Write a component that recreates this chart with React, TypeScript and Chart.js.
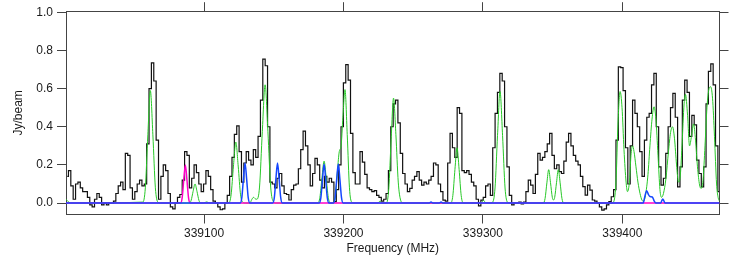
import { useEffect, useRef } from 'react';
import { Chart, registerables } from 'chart.js';

Chart.register(...registerables);

// ---- data ----
const CHANNEL_START_MHZ = 339001.9;
const CHANNEL_WIDTH_MHZ = 1.7;

const SPECTRUM = [
  0.14, 0.17, 0.09, 0.02, 0.10, 0.11, 0.08, 0.06, 0.06, 0.03,
  -0.01, -0.02, 0.02, 0.05, 0.03, -0.01, 0.0, -0.01, 0.0, 0.0,
  0.01, 0.05, 0.09, 0.11, 0.07, 0.26, 0.25, 0.08, 0.02, 0.06,
  0.10, 0.12, 0.09, 0.10, 0.31, 0.60, 0.735, 0.64, 0.33, 0.02,
  0.14, 0.20, 0.17, 0.05, -0.02, -0.03, 0.0, 0.03, 0.045, 0.12,
  0.27, 0.25, 0.08, 0.13, 0.20, 0.16, 0.10, 0.06, 0.10, 0.17,
  0.14, 0.07, 0.01, 0.0, -0.02, -0.035, -0.03, 0.0, 0.04, 0.14,
  0.24, 0.36, 0.405, 0.27, 0.11, 0.21, 0.27, 0.225, 0.20, 0.28,
  0.24, 0.35, 0.54, 0.755, 0.72, 0.40, 0.11, 0.10, 0.08, 0.13,
  0.155, 0.09, 0.05, 0.045, 0.016, 0.07, 0.094, 0.10, 0.18, 0.28,
  0.377, 0.30, 0.20, 0.09, 0.155, 0.234, 0.20, 0.12, 0.08, 0.14,
  0.11, 0.13, 0.11, 0.007, 0.07, 0.20, 0.40, 0.63, 0.726, 0.645,
  0.365, 0.16, 0.10, 0.10, 0.27, 0.215, 0.15, 0.08, 0.07, 0.06,
  0.065, 0.04, 0.03, 0.01, 0.02, 0.05, 0.17, 0.40, 0.52, 0.54,
  0.42, 0.26, 0.155, 0.10, 0.06, 0.077, 0.12, 0.14, 0.165, 0.12,
  0.094, 0.11, 0.10, 0.12, 0.14, 0.21, 0.20, 0.10, 0.06, 0.015,
  0.01, 0.21, 0.365, 0.29, 0.24, 0.50, 0.47, 0.17, 0.16, 0.17,
  0.15, 0.11, 0.09, 0.02, -0.015, 0.015, 0.03, 0.09, 0.10, 0.04,
  0.29, 0.47, 0.58, 0.68, 0.64, 0.40, 0.19, 0.04, -0.01, 0.0,
  0.0, 0.005, -0.005, 0.005, 0.06, 0.12, 0.094, 0.05, 0.15, 0.26,
  0.225, 0.24, 0.27, 0.31, 0.365, 0.25, 0.18, 0.20, 0.165, 0.155,
  0.22, 0.32, 0.365, 0.30, 0.25, 0.22, 0.20, 0.14, 0.086, 0.042,
  0.094, 0.068, 0.016, 0.01, 0.0, -0.02, -0.037, -0.03, -0.01, 0.007,
  0.033, 0.07, 0.33, 0.714, 0.71, 0.59, 0.29, 0.10, 0.30, 0.54,
  0.47, 0.40, 0.27, 0.14, 0.33, 0.45, 0.47, 0.62, 0.68, 0.40,
  0.19, 0.094, 0.13, 0.26, 0.40, 0.50, 0.575, 0.45, 0.085, 0.19,
  0.54, 0.645, 0.58, 0.35, 0.46, 0.41, 0.225, 0.155, 0.085, 0.19,
  0.52, 0.69, 0.73, 0.62, 0.30, 0.06,
];

const GREEN_FREQ = [
  339001.0, 339002.5, 339004.3,
  339056.1, 339057.9, 339059.7, 339061.5, 339063.3, 339065.1, 339066.9, 339068.7,
  339089.35, 339090.75, 339092.15, 339093.55, 339094.95, 339096.35, 339097.75,
  339099.5, 339101.9, 339104.3,
  339117.7, 339119.4, 339121.1, 339122.8, 339124.5, 339126.2, 339127.9, 339129.6,
  339132.9, 339134.2, 339135.5, 339136.8, 339137.8, 339139.8, 339141.8, 339143.8, 339145.8, 339147.8, 339149.8, 339151.8,
  339181.6, 339183.1, 339184.6, 339186.1, 339187.6, 339189.1, 339190.6,
  339192.6, 339194.2, 339195.7, 339197.0, 339198.3, 339199.6, 339201.1, 339202.7, 339204.3, 339205.9, 339207.5,
  339224.6, 339226.2, 339227.8,
  339230.8, 339232.5, 339234.2, 339235.9, 339237.6, 339239.3, 339241.0, 339242.7,
  339276.95, 339278.45, 339279.95, 339281.45, 339282.95, 339284.45, 339285.95,
  339298.8, 339300.45, 339302.1,
  339305.1, 339306.9, 339308.7, 339310.5, 339312.3, 339314.1, 339315.9, 339317.7, 339319.5,
  339343.3, 339344.6, 339345.9, 339347.2, 339348.5, 339349.8, 339350.7, 339351.5, 339352.8, 339354.1, 339355.4, 339356.7, 339358.0,
  339392.6, 339394.0, 339395.5, 339396.9, 339398.4, 339399.8, 339401.2, 339402.7, 339403.7, 339405.2,
  339406.2, 339407.3, 339408.4, 339409.8, 339411.2, 339412.7, 339414.1, 339415.2, 339416.6, 339418.4,
  339419.8, 339421.3, 339422.7, 339424.1, 339425.6, 339427.0, 339428.1, 339429.5, 339431.3, 339433.1,
  339434.6, 339436.0, 339437.4, 339438.9, 339440.3, 339441.4, 339442.8, 339444.3, 339445.3, 339446.8,
  339448.2, 339449.6, 339451.1, 339452.5, 339453.9, 339455.4, 339456.5, 339457.9, 339459.3, 339460.7,
  339462.2, 339463.3, 339464.7, 339466.1, 339467.6, 339468.7, 339469.7,
];
const GREEN_VAL = [
  0.02, 0.008, 0,
  0.005, 0.08, 0.358, 0.59, 0.358, 0.08, 0.005, 0,
  0, 0.014, 0.061, 0.10, 0.061, 0.014, 0,
  0, 0.006, 0,
  0, 0.043, 0.194, 0.32, 0.194, 0.043, 0.004, 0,
  0, 0.018, 0.03, 0.022, 0.02, 0.084, 0.376, 0.62, 0.376, 0.084, 0.007, 0,
  0, 0.03, 0.134, 0.22, 0.134, 0.03, 0,
  0, 0.035, 0.17, 0.27, 0.30, 0.45, 0.595, 0.36, 0.08, 0.005, 0,
  0, 0.01, 0,
  0, 0.075, 0.334, 0.55, 0.36, 0.11, 0.015, 0,
  0, 0.039, 0.176, 0.29, 0.176, 0.039, 0,
  0, 0.015, 0,
  0, 0.004, 0.079, 0.355, 0.585, 0.355, 0.079, 0.004, 0,
  0, 0.024, 0.106, 0.175, 0.107, 0.03, 0.016, 0.03, 0.107, 0.175, 0.106, 0.024, 0,
  0, 0.01, 0.12, 0.42, 0.585, 0.50, 0.28, 0.11, 0.06, 0.12,
  0.25, 0.30, 0.27, 0.19, 0.11, 0.05, 0.015, 0.01, 0.04, 0.15,
  0.30, 0.44, 0.505, 0.44, 0.25, 0.07, 0.03, 0.05, 0.13, 0.27,
  0.37, 0.40, 0.34, 0.20, 0.11, 0.13, 0.30, 0.52, 0.57, 0.46,
  0.30, 0.35, 0.415, 0.33, 0.19, 0.095, 0.077, 0.12, 0.30, 0.50,
  0.60, 0.61, 0.55, 0.35, 0.10, 0.03, 0.01,
];

const BLUE_FREQ = [
  339001.0,
  339125.95, 339127.1, 339128.25, 339129.4, 339130.55, 339131.7, 339132.85,
  339149.25, 339150.4, 339151.55, 339152.7, 339153.85, 339155.0, 339156.15,
  339182.65, 339183.8, 339184.95, 339186.1, 339187.25, 339188.4, 339189.55,
  339192.85, 339194.0, 339195.15, 339196.3, 339197.45, 339198.6, 339199.75,
  339261.5, 339262.8, 339264.1,
  339268.7, 339270.0, 339271.3,
  339415.0, 339416.0, 339417.5, 339418.7, 339419.8, 339421.5, 339422.8, 339424.1,
  339427.5, 339428.3, 339429.0, 339429.8, 339430.6,
  339469.7,
];
const BLUE_VAL = [
  0,
  0, 0.028, 0.127, 0.21, 0.127, 0.028, 0,
  0, 0.028, 0.127, 0.21, 0.127, 0.028, 0,
  0, 0.028, 0.124, 0.205, 0.124, 0.028, 0,
  0, 0.028, 0.124, 0.205, 0.124, 0.028, 0,
  0, 0.006, 0,
  0, 0.006, 0,
  0, 0.03, 0.065, 0.045, 0.034, 0.032, 0.012, 0,
  0, 0.012, 0.021, 0.012, 0,
  0,
];

const MAGENTA_FREQ = [
  339001.0,
  339083.15, 339084.3, 339085.45, 339086.6, 339087.75, 339088.9, 339090.05,
  339469.7,
];
const MAGENTA_VAL = [0, 0, 0.027, 0.121, 0.20, 0.121, 0.027, 0, 0];

const X_MIN = 339001.0;
const X_MAX = 339469.7;
const Y_MIN = -0.06;
const Y_MAX = 1.006;
const X_TICKS = [339100, 339200, 339300, 339400];
const Y_TICKS = [0, 0.2, 0.4, 0.6, 0.8, 1.0];

const X_TITLE = 'Frequency (MHz)';
const Y_TITLE = 'Jy/beam';

const FONT = 'Liberation Sans, Arial, Helvetica, sans-serif';
const TEXT = '#1a1a1a';
const FRAME = '#444';

function pairs(xs: number[], ys: number[]) {
  return xs.map((x, i) => ({ x, y: ys[i] }));
}

export default function App() {
  const ref = useRef<HTMLCanvasElement | null>(null);

  useEffect(() => {
    document.body.style.margin = '0';
    const canvas = ref.current;
    if (!canvas) return;

    const spectrum = SPECTRUM.map((v, i) => ({ x: CHANNEL_START_MHZ + i * CHANNEL_WIDTH_MHZ, y: v }));

    const gridOpts = {
      drawOnChartArea: false,
      drawTicks: true,
      tickLength: 9,
      color: FRAME,
      lineWidth: 1,
    };
    const borderOpts = { display: true, color: FRAME, width: 1 };
    const setX = (s: any) => { s.ticks = X_TICKS.map((v) => ({ value: v })); };
    const setY = (s: any) => { s.ticks = Y_TICKS.map((v) => ({ value: v })); };

    const chart = new Chart(canvas, {
      type: 'line',
      data: {
        datasets: [
          {
            label: 'blue',
            data: pairs(BLUE_FREQ, BLUE_VAL),
            borderColor: 'rgb(20,70,255)',
            borderWidth: 1.5,
            pointRadius: 0,
            cubicInterpolationMode: 'monotone',
            fill: false,
            order: 1,
          },
          {
            label: 'magenta',
            data: pairs(MAGENTA_FREQ, MAGENTA_VAL),
            borderColor: 'rgb(255,0,200)',
            borderWidth: 1.5,
            pointRadius: 0,
            cubicInterpolationMode: 'monotone',
            fill: false,
            order: 2,
          },
          {
            label: 'green',
            data: pairs(GREEN_FREQ, GREEN_VAL),
            borderColor: 'rgb(40,200,40)',
            borderWidth: 1,
            pointRadius: 0,
            cubicInterpolationMode: 'monotone',
            fill: false,
            order: 3,
          },
          {
            label: 'spectrum',
            data: spectrum,
            borderColor: '#111',
            borderWidth: 1.2,
            pointRadius: 0,
            stepped: 'middle',
            fill: false,
            order: 4,
          },
        ],
      },
      options: {
        animation: false,
        responsive: false,
        maintainAspectRatio: false,
        events: [],
        layout: { padding: 0 },
        plugins: { legend: { display: false }, tooltip: { enabled: false } },
        scales: {
          x: {
            type: 'linear',
            position: 'bottom',
            min: X_MIN,
            max: X_MAX,
            afterBuildTicks: setX,
            afterFit: (s: any) => { s.height = 42.5; },
            grid: gridOpts,
            border: borderOpts,
            ticks: {
              color: TEXT,
              font: { family: FONT, size: 12 },
              padding: 2.5,
              maxRotation: 0,
              autoSkip: false,
              callback: (v: any) => String(v),
            },
            title: {
              display: true,
              text: X_TITLE,
              color: TEXT,
              font: { family: FONT, size: 12 },
              padding: { top: 0, bottom: 1.3 },
            },
          },
          x2: {
            type: 'linear',
            position: 'top',
            min: X_MIN,
            max: X_MAX,
            afterBuildTicks: setX,
            afterFit: (s: any) => { s.height = 11; },
            grid: gridOpts,
            border: borderOpts,
            ticks: { display: false },
          },
          y: {
            type: 'linear',
            position: 'left',
            min: Y_MIN,
            max: Y_MAX,
            afterBuildTicks: setY,
            afterFit: (s: any) => { s.width = 66; },
            grid: gridOpts,
            border: borderOpts,
            ticks: {
              color: TEXT,
              font: { family: FONT, size: 12 },
              padding: 4,
              callback: (v: any) => Number(v).toFixed(1),
            },
            title: {
              display: true,
              text: Y_TITLE,
              color: TEXT,
              font: { family: FONT, size: 12 },
              padding: { top: 11.8, bottom: 0 },
            },
          },
          y2: {
            type: 'linear',
            position: 'right',
            min: Y_MIN,
            max: Y_MAX,
            afterBuildTicks: setY,
            afterFit: (s: any) => { s.width = 27.5; },
            grid: gridOpts,
            border: borderOpts,
            ticks: { display: false },
          },
        },
      },
    } as any);

    return () => chart.destroy();
  }, []);

  return (
    <div style={{ width: 747, height: 257, background: '#fff' }}>
      <canvas ref={ref} width={747} height={257} style={{ display: 'block', width: 747, height: 257 }} />
    </div>
  );
}
